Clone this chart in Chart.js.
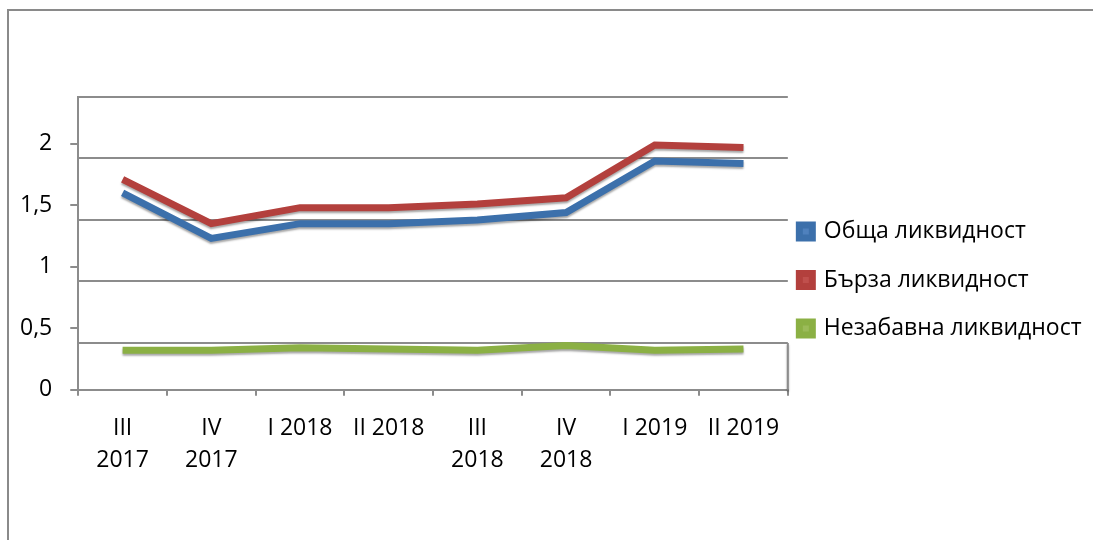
<!DOCTYPE html>
<html>
<head>
<meta charset="utf-8">
<script src="https://cdn.jsdelivr.net/npm/chart.js@4"></script>
<style>
  html, body { margin: 0; padding: 0; background: #fff; }
  #wrap { position: relative; width: 1093px; height: 540px; overflow: hidden; }
  #frame { position: absolute; left: 7px; top: 9px; width: 1100px; height: 560px;
           border-left: 2px solid #8a8a8a; border-top: 2px solid #8a8a8a; }
  canvas { position: absolute; left: 0; top: 0; }
</style>
</head>
<body>
<div id="wrap">
  <div id="frame"></div>
  <canvas id="liqChart" width="1093" height="540"></canvas>
</div>
<script>
// Тримесечия
const quarters = [["III", "2017"], ["IV", "2017"], "I 2018", "II 2018", ["III", "2018"], ["IV", "2018"], "I 2019", "II 2019"];

// Коефициенти на ликвидност
const totalLiquidity = [1.60, 1.23, 1.35, 1.35, 1.38, 1.44, 1.86, 1.84];
const quickLiquidity = [1.71, 1.35, 1.48, 1.48, 1.51, 1.56, 1.99, 1.97];
const cashLiquidity  = [0.32, 0.32, 0.34, 0.33, 0.32, 0.36, 0.32, 0.33];

const yTicks = [0, 0.5, 1, 1.5, 2];
const wallGrid = [0.5, 1, 1.5, 2, 2.5];

const FONT = "'Open Sans', sans-serif";
const GRAY = '#8c8c8c';

// леко "3D" сенче под линиите
const lineShadow = {
  id: 'lineShadow',
  beforeDatasetsDraw(chart) {
    const ctx = chart.ctx;
    ctx.save();
    ctx.shadowColor = 'rgba(0,0,0,0.35)';
    ctx.shadowOffsetY = 2;
    ctx.shadowBlur = 2;
  },
  afterDatasetsDraw(chart) { chart.ctx.restore(); }
};

// десният ръб на "пода" (от най-ниската линия на стената до оста)
const floorEdge = {
  id: 'floorEdge',
  beforeDatasetsDraw(chart) {
    const { ctx, chartArea } = chart;
    const wall = chart.scales.wall;
    ctx.save();
    ctx.strokeStyle = GRAY;
    ctx.lineWidth = 2;
    ctx.beginPath();
    ctx.moveTo(chartArea.right, wall.getPixelForValue(wallGrid[0]));
    ctx.lineTo(chartArea.right, chartArea.bottom);
    ctx.stroke();
    ctx.restore();
  }
};

// легендата: точно до графиката и без изрязване на текста
const legendPlace = {
  id: 'legendPlace',
  afterLayout(chart) {
    const lg = chart.legend;
    if (!lg) return;
    lg.left = chart.chartArea.right - 14;
    lg.right = chart.width;
    lg.width = lg.right - lg.left;
    lg.top -= 15;
    lg.bottom -= 15;
  }
};

new Chart(document.getElementById('liqChart'), {
  type: 'line',
  data: {
    labels: quarters,
    datasets: [
      { label: 'Обща ликвидност', data: totalLiquidity, borderColor: '#3c70ab', backgroundColor: '#4f81bd' },
      { label: 'Бърза ликвидност', data: quickLiquidity, borderColor: '#b3403d', backgroundColor: '#c0504d' },
      { label: 'Незабавна ликвидност', data: cashLiquidity, borderColor: '#8bb044', backgroundColor: '#9bbb59' }
    ]
  },
  options: {
    responsive: false,
    animation: false,
    layout: { padding: { left: 2, right: 148, top: 97, bottom: 47 } },
    elements: {
      line: { borderWidth: 7, tension: 0, fill: false, borderCapStyle: 'butt' },
      point: { radius: 0, hoverRadius: 0 }
    },
    plugins: {
      tooltip: { enabled: false },
      legend: {
        position: 'right',
        labels: {
          boxWidth: 13, boxHeight: 13, padding: 25.5,
          color: '#000',
          font: { family: FONT, size: 23 }
        }
      }
    },
    scales: {
      x: {
        offset: true,
        grid: { offset: true, drawOnChartArea: false, tickLength: 6, color: GRAY, lineWidth: 2 },
        border: { color: GRAY, width: 2 },
        ticks: {
          color: '#000', padding: 16, maxRotation: 0, autoSkip: false,
          font: { family: FONT, size: 23, lineHeight: 1.42 }
        }
      },
      y: {
        min: 0, max: 2.38,
        afterBuildTicks: s => { s.ticks = yTicks.map(v => ({ value: v })); },
        grid: { drawOnChartArea: false, tickLength: 8, color: GRAY, lineWidth: 2 },
        border: { color: GRAY, width: 2 },
        ticks: {
          color: '#000', padding: 18,
          font: { family: FONT, size: 23 },
          callback: v => String(v).replace('.', ',')
        }
      },
      wall: {
        position: 'left',
        min: 0.12, max: 2.5,
        afterBuildTicks: s => { s.ticks = wallGrid.map(v => ({ value: v })); },
        grid: { drawTicks: false, color: GRAY, lineWidth: 2 },
        border: { display: false },
        ticks: { display: false }
      }
    }
  },
  plugins: [lineShadow, floorEdge, legendPlace]
});
</script>
</body>
</html>
